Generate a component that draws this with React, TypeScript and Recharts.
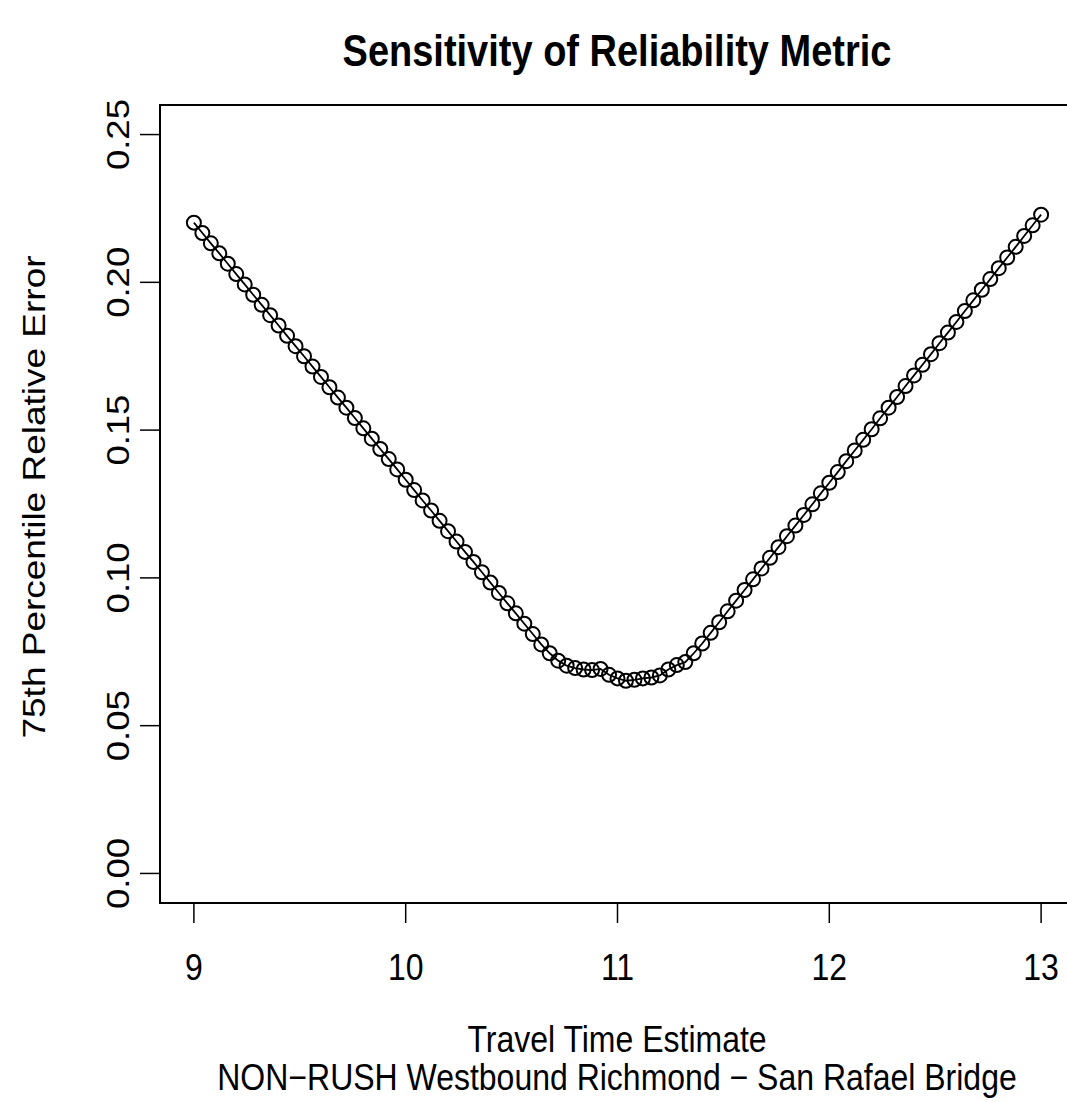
import { LineChart, Line, XAxis, YAxis, ReferenceArea } from 'recharts';

// travel time estimate (x) and 75th percentile relative error (y)
const travelTime = [
  9.0, 9.04, 9.08, 9.12, 9.16, 9.2, 9.24, 9.28, 9.32, 9.36,
  9.4, 9.44, 9.48, 9.52, 9.56, 9.6, 9.64, 9.68, 9.72, 9.76,
  9.8, 9.84, 9.88, 9.92, 9.96, 10.0, 10.04, 10.08, 10.12, 10.16,
  10.2, 10.24, 10.28, 10.32, 10.36, 10.4, 10.44, 10.48, 10.52, 10.56,
  10.6, 10.64, 10.68, 10.72, 10.76, 10.8, 10.84, 10.88, 10.92, 10.96,
  11.0, 11.04, 11.08, 11.12, 11.16, 11.2, 11.24, 11.28, 11.32, 11.36,
  11.4, 11.44, 11.48, 11.52, 11.56, 11.6, 11.64, 11.68, 11.72, 11.76,
  11.8, 11.84, 11.88, 11.92, 11.96, 12.0, 12.04, 12.08, 12.12, 12.16,
  12.2, 12.24, 12.28, 12.32, 12.36, 12.4, 12.44, 12.48, 12.52, 12.56,
  12.6, 12.64, 12.68, 12.72, 12.76, 12.8, 12.84, 12.88, 12.92, 12.96,
  13.0,
];

const relError = [
  0.2202, 0.2167, 0.2132, 0.2098, 0.2063, 0.2028, 0.1993, 0.1958, 0.1924, 0.1889,
  0.1854, 0.1819, 0.1784, 0.175, 0.1715, 0.168, 0.1645, 0.161, 0.1576, 0.1541,
  0.1506, 0.1471, 0.1436, 0.1402, 0.1367, 0.1332, 0.1297, 0.1262, 0.1228, 0.1193,
  0.1158, 0.1123, 0.1088, 0.1054, 0.1019, 0.0984, 0.0949, 0.0914, 0.088, 0.0845,
  0.081, 0.0775, 0.0745, 0.072, 0.0703, 0.0695, 0.069, 0.0688, 0.0692, 0.0672,
  0.066, 0.0652, 0.0655, 0.066, 0.0663, 0.067, 0.069, 0.0705, 0.0715, 0.0745,
  0.0778, 0.0814, 0.085, 0.0887, 0.0923, 0.0959, 0.0995, 0.1032, 0.1068, 0.1104,
  0.1141, 0.1177, 0.1213, 0.1249, 0.1286, 0.1322, 0.1358, 0.1395, 0.1431, 0.1467,
  0.1503, 0.154, 0.1576, 0.1612, 0.1649, 0.1685, 0.1721, 0.1757, 0.1794, 0.183,
  0.1866, 0.1903, 0.1939, 0.1975, 0.2011, 0.2048, 0.2084, 0.212, 0.2157, 0.2193,
  0.2229,
];

const xTicks = [9, 10, 11, 12, 13];
const yTicks = [0, 0.05, 0.1, 0.15, 0.2, 0.25];

const data = travelTime.map((x, i) => ({ x, y: relError[i] }));

const FONT = '"Liberation Sans", Arial, sans-serif';
// the source image is a little taller than wide, so glyphs look stretched vertically
const STRETCH = 1.15;

function HText({ x, y, size, bold, children }: any) {
  return (
    <text
      transform={`translate(${x},${y}) scale(1,${STRETCH})`}
      textAnchor="middle"
      fontFamily={FONT}
      fontSize={size}
      fontWeight={bold ? 'bold' : 'normal'}
      fill="#000"
    >
      {children}
    </text>
  );
}

function VText({ x, y, size, children }: any) {
  return (
    <text
      transform={`translate(${x},${y}) scale(${1 / STRETCH},1) rotate(-90)`}
      textAnchor="middle"
      fontFamily={FONT}
      fontSize={size}
      fill="#000"
    >
      {children}
    </text>
  );
}

function XTick(props: any) {
  const { x, y, payload } = props;
  return (
    <HText x={x} y={y + 57} size={32}>
      {payload.value}
    </HText>
  );
}

function YTick(props: any) {
  const { x, y, payload } = props;
  return (
    <VText x={x - 11} y={y} size={36.5}>
      {Number(payload.value).toFixed(2)}
    </VText>
  );
}

export default function App() {
  return (
    <div style={{ position: 'absolute', left: 0, top: 0, width: 1067, height: 1102, overflow: 'hidden', background: '#fff' }}>
      <LineChart width={1100} height={1102} data={data} margin={{ top: 105, right: 25, bottom: 0, left: 0 }}>
        <XAxis
          dataKey="x"
          type="number"
          domain={[8.84, 13.16]}
          allowDataOverflow
          ticks={xTicks}
          axisLine={false}
          tickSize={20}
          tickMargin={0}
          tickLine={{ stroke: '#000', strokeWidth: 1.5 }}
          tick={<XTick />}
          height={199}
        />
        <YAxis
          type="number"
          domain={[-0.01, 0.26]}
          allowDataOverflow
          ticks={yTicks}
          axisLine={false}
          tickSize={20}
          tickMargin={0}
          tickLine={{ stroke: '#000', strokeWidth: 1.5 }}
          tick={<YTick />}
          width={160}
        />
        <ReferenceArea x1={8.84} x2={13.16} y1={-0.01} y2={0.26} fill="none" stroke="#000" strokeWidth={2} />
        <Line
          type="linear"
          dataKey="y"
          stroke="#000"
          strokeWidth={1.8}
          dot={{ r: 7, fill: 'none', stroke: '#000', strokeWidth: 2 }}
          isAnimationActive={false}
        />
      </LineChart>
      <svg width={1067} height={1102} style={{ position: 'absolute', left: 0, top: 0, pointerEvents: 'none' }}>
        <HText x={617} y={66} size={38} bold>
          Sensitivity of Reliability Metric
        </HText>
        <HText x={617} y={1052} size={32}>
          Travel Time Estimate
        </HText>
        <HText x={617} y={1090} size={32}>
          NON−RUSH Westbound Richmond − San Rafael Bridge
        </HText>
        <VText x={45} y={497} size={37}>
          75th Percentile Relative Error
        </VText>
      </svg>
    </div>
  );
}
